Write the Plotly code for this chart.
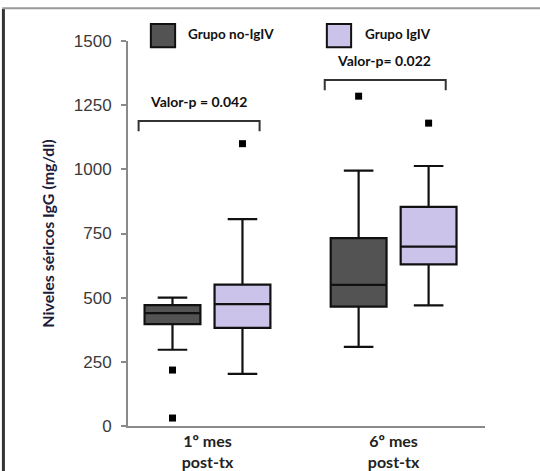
import plotly.graph_objects as go

# ---------------- data ----------------
categories = ["1º mes<br>post-tx", "6º mes<br>post-tx"]
groups = ["Grupo no-IgIV", "Grupo IgIV"]

noigiv_lower = [297, 308]
noigiv_q1 = [397, 465]
noigiv_median = [440, 550]
noigiv_q3 = [471, 732]
noigiv_upper = [500, 995]
noigiv_outliers = [[218, 31], [1285]]

igiv_lower = [203, 470]
igiv_q1 = [382, 630]
igiv_median = [475, 699]
igiv_q3 = [551, 854]
igiv_upper = [806, 1013]
igiv_outliers = [[1100], [1180]]

p_labels = ["Valor-p = 0.042", "Valor-p= 0.022"]
bracket_y = [1188, 1348]

y_ticks = [0, 250, 500, 750, 1000, 1250, 1500]

# ---------------- styling ----------------
colors = ["#535353", "#cbc3e9"]
offset = 0.188
box_w = 0.30
bold_font = "Lato"

fig = go.Figure()

series = [
    (noigiv_lower, noigiv_q1, noigiv_median, noigiv_q3, noigiv_upper, noigiv_outliers),
    (igiv_lower, igiv_q1, igiv_median, igiv_q3, igiv_upper, igiv_outliers),
]

for gi, (lo, q1, med, q3, up, outs) in enumerate(series):
    sign = -1 if gi == 0 else 1
    for ci in range(len(categories)):
        pos = ci + sign * offset
        fig.add_trace(go.Box(
            x=[pos], q1=[q1[ci]], median=[med[ci]], q3=[q3[ci]],
            lowerfence=[lo[ci]], upperfence=[up[ci]],
            width=box_w, whiskerwidth=0.53,
            fillcolor=colors[gi], line=dict(color="#111111", width=2.2),
            boxpoints=False, showlegend=False, name=groups[gi],
        ))
        fig.add_trace(go.Scatter(
            x=[pos] * len(outs[ci]), y=outs[ci], mode="markers",
            marker=dict(symbol="square", size=7, color="#000000"),
            showlegend=False, hoverinfo="skip",
        ))

shapes = []
annotations = []

# significance brackets
for ci in range(len(categories)):
    yb = bracket_y[ci]
    x0 = ci - 0.37
    x1 = ci + 0.28
    shapes.append(dict(type="path", xref="x", yref="y",
                       path=f"M {x0},{yb-40} L {x0},{yb} L {x1},{yb} L {x1},{yb-40}",
                       line=dict(color="#333333", width=2)))
    annotations.append(dict(x=ci - 0.05, y=yb + 75, xref="x", yref="y",
                            text=p_labels[ci], showarrow=False,
                            font=dict(family=bold_font, size=14, color="#111111", weight="bold")))

# custom legend
leg_sq = [(0.064, 0.132), (0.557, 0.625)]
leg_tx = [0.162, 0.658]
for gi in range(len(groups)):
    shapes.append(dict(type="rect", xref="paper", yref="paper",
                       x0=leg_sq[gi][0], x1=leg_sq[gi][1], y0=0.984, y1=1.044,
                       fillcolor=colors[gi], line=dict(color="#111111", width=2)))
    annotations.append(dict(x=leg_tx[gi], y=1.018, xref="paper", yref="paper",
                            xanchor="left", yanchor="middle", text=groups[gi],
                            showarrow=False,
                            font=dict(family=bold_font, size=13.5, color="#111111", weight="bold")))

# frame lines (left border and top line)
shapes.append(dict(type="line", xref="paper", yref="paper",
                   x0=-0.349, x1=-0.349, y0=1.084, y1=-0.12,
                   line=dict(color="#333333", width=3)))
shapes.append(dict(type="line", xref="paper", yref="paper",
                   x0=-0.352, x1=1.16, y0=1.085, y1=1.085,
                   line=dict(color="#999999", width=2)))

fig.update_layout(
    width=540, height=471,
    margin=dict(l=128, r=55, t=41, b=45, autoexpand=False),
    paper_bgcolor="white", plot_bgcolor="white",
    shapes=shapes, annotations=annotations,
    showlegend=False,
    xaxis=dict(range=[-0.427, 1.491], tickvals=[0, 1], ticktext=categories,
               automargin=False,
               showline=True, linecolor="#8a8a8a", linewidth=2,
               showgrid=False, zeroline=False, ticks="",
               ticklabelstandoff=0,
               tickfont=dict(family=bold_font, size=16, color="#222222", weight="bold")),
    yaxis=dict(range=[0, 1500], tickvals=y_ticks,
               automargin=False,
               showline=True, linecolor="#8a8a8a", linewidth=2,
               showgrid=False, zeroline=False,
               ticks="outside", ticklen=5, tickwidth=2, tickcolor="#8a8a8a",
               ticklabelstandoff=6,
               tickfont=dict(family="Liberation Sans", size=17, color="#3a3a3a"),
               title=dict(text="Niveles séricos IgG (mg/dl)", standoff=15,
                          font=dict(family=bold_font, size=16, color="#1c1c3a", weight="bold"))),
)

fig.write_html(
    "out.html",
    config={"displayModeBar": False},
    post_script="document.body.style.margin='0';",
)
